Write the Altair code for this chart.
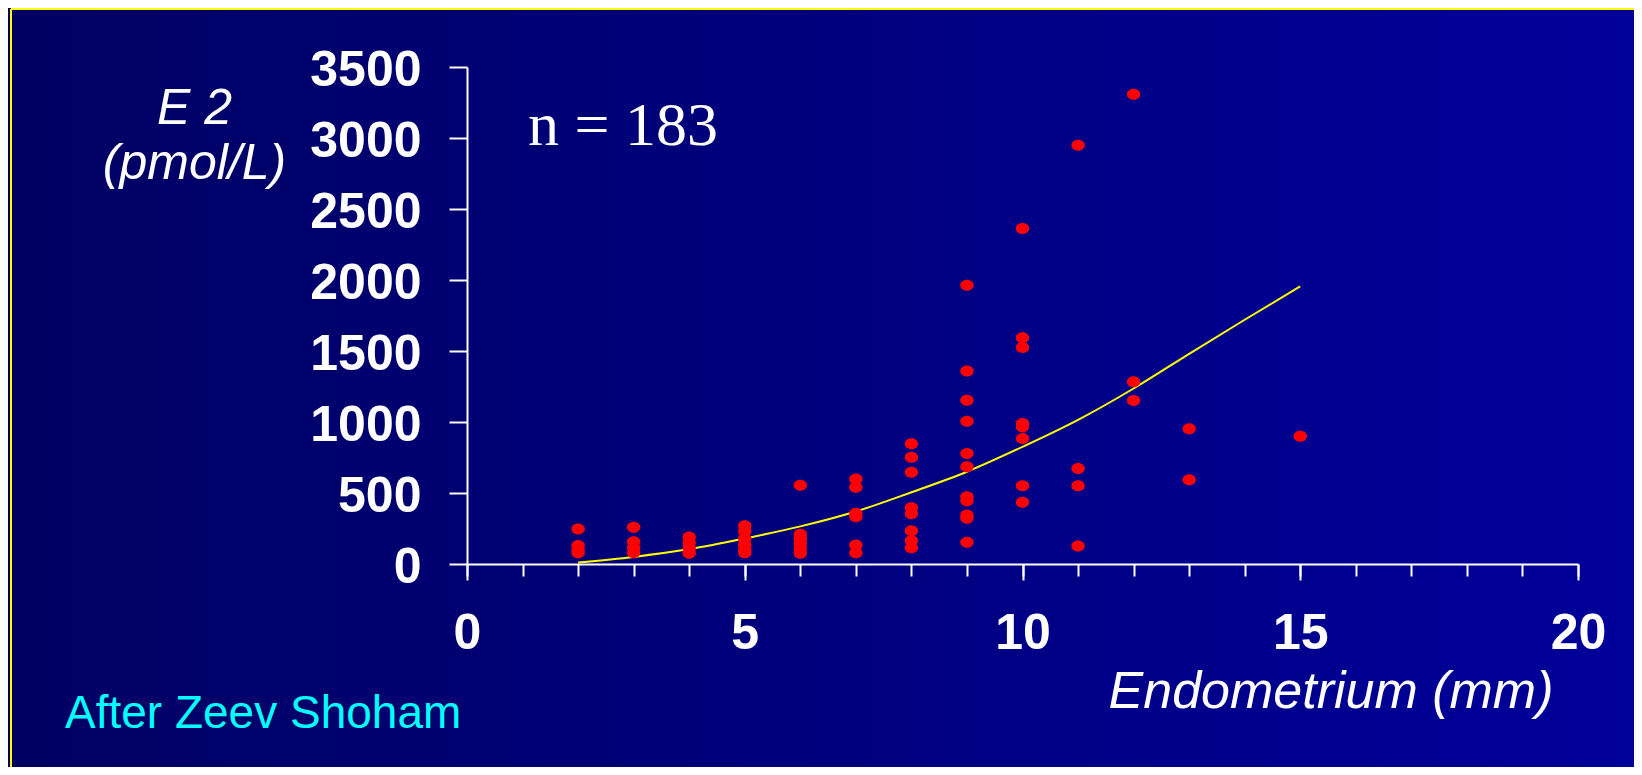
import altair as alt
import pandas as pd

# ---- data ----
x_pts = ([2] * 4 + [3] * 4 + [4] * 4 + [5] * 6 + [6] * 6 + [7] * 6 + [8] * 8 +
         [9] * 11 + [10] * 8 + [11] * 4 + [12] * 3 + [13] * 2 + [15])
y_pts = [246, 130, 100, 80,
         258, 157, 117, 80,
         190, 150, 110, 75,
         270, 230, 180, 135, 100, 80,
         554, 210, 180, 145, 110, 75,
         598, 540, 357, 333, 134, 80,
         847, 751, 647, 396, 354, 234, 164, 115,
         1963, 1360, 1154, 1006, 779, 685, 474, 446, 345, 322, 153,
         2362, 1593, 1525, 990, 966, 884, 551, 434,
         2949, 673, 551, 127,
         3308, 1283, 1152,
         952, 593,
         899]
fit_x = [2, 3, 4, 5, 6, 7, 8, 9, 10, 11, 12, 13, 14, 15]
fit_y = [10, 50, 105, 180, 265, 370, 505, 650, 825, 1015, 1236, 1480, 1720, 1955]
x_major = [0, 5, 10, 15, 20]
x_minor = list(range(0, 21))
y_ticks = [0, 500, 1000, 1500, 2000, 2500, 3000, 3500]

pts = pd.DataFrame({"Endometrium": x_pts, "E2": y_pts})
fit = pd.DataFrame({"Endometrium": fit_x, "E2": fit_y})
one = pd.DataFrame({"k": [0]})

# ---- layout ----
W, H = 1111, 497
PAD_L, PAD_T, PAD_R, PAD_B = 459, 59, 56, 203
SANS = "Liberation Sans, Arial, sans-serif"

xscale = alt.Scale(domain=[0, 20], nice=False, zero=False)
yscale = alt.Scale(domain=[0, 3500], nice=False)

yaxis = alt.Axis(
    values=y_ticks, format="d", title=["E 2", "(pmol/L)"], titleAngle=0,
    titleAlign="center", titleBaseline="alphabetic", titleX=-273, titleY=56,
    titleLineHeight=55, titleFont=SANS, titleFontSize=50, titleFontStyle="italic",
    titleFontWeight="normal", titleColor="white", tickSize=18, tickWidth=2,
    tickColor="white", domainColor="white", domainWidth=2, labelFont=SANS,
    labelFontSize=50, labelFontWeight="bold", labelColor="white", labelPadding=28,
    labelBaseline="middle", labelOffset=3, grid=False, zindex=1,
)
xaxis_major = alt.Axis(
    values=x_major, format="d", orient="bottom", title="Endometrium (mm)",
    titleAlign="right", titleBaseline="alphabetic", titleX=1086, titleY=143,
    titleFont=SANS, titleFontSize=52, titleFontStyle="italic",
    titleFontWeight="normal", titleColor="white", tickSize=16, tickWidth=2,
    tickColor="white", domainColor="white", domainWidth=2, labelFont=SANS,
    labelFontSize=50, labelFontWeight="bold", labelColor="white", labelPadding=28,
    grid=False, labelFlush=False, labelOverlap=False, zindex=1,
)
xaxis_minor = alt.Axis(
    values=x_minor, orient="bottom", title=None, labels=False, domain=False,
    tickSize=12, tickWidth=2, tickColor="white", grid=False, zindex=1,
)

grad = alt.LinearGradient(
    gradient="linear",
    stops=[alt.GradientStop(color="#000062", offset=0),
           alt.GradientStop(color="#00009a", offset=1)],
    x1=0, x2=1, y1=0, y2=0,
)

bg = alt.Chart(one).mark_rect(fill=grad).encode(
    x=alt.value(-PAD_L), x2=alt.value(W + PAD_R),
    y=alt.value(-PAD_T), y2=alt.value(H + PAD_B),
)
border_v = alt.Chart(one).mark_rule(color="#FFFF00", strokeWidth=2).encode(
    x=alt.value(-456), y=alt.value(-58), y2=alt.value(H + PAD_B),
)
border_h = alt.Chart(one).mark_rule(color="#FFFF00", strokeWidth=2).encode(
    x=alt.value(-456), x2=alt.value(W + PAD_R), y=alt.value(-58),
)

line = alt.Chart(fit).mark_line(color="#FFFF00", strokeWidth=2, interpolate="monotone").encode(
    x=alt.X("Endometrium:Q", scale=xscale, axis=xaxis_minor),
    y=alt.Y("E2:Q", scale=yscale, axis=yaxis),
)

ellipse = "M -1 0 A 1 0.82 0 1 1 1 0 A 1 0.82 0 1 1 -1 0 Z"
points = alt.Chart(pts).mark_point(
    shape=ellipse, filled=True, fill="#FF0000", opacity=1, size=180, strokeWidth=0,
).encode(
    x=alt.X("Endometrium:Q", scale=xscale, axis=xaxis_major),
    y=alt.Y("E2:Q", scale=yscale, axis=yaxis),
)

n_text = alt.Chart(one).mark_text(
    text="n = 183", font="Liberation Serif, Times New Roman, serif", fontSize=62,
    color="white", align="left", baseline="alphabetic",
).encode(x=alt.value(61), y=alt.value(78))

credit = alt.Chart(one).mark_text(
    text="After Zeev Shoham", font="Liberation Sans Narrow, Arial Narrow, Liberation Sans, sans-serif",
    fontSize=46, color="#00FFFF", align="left", baseline="alphabetic",
).encode(x=alt.value(-402), y=alt.value(661))

chart = alt.layer(bg, border_v, border_h, line, points, n_text, credit).resolve_axis(
    x="independent"
).properties(
    width=W, height=H,
    autosize=alt.AutoSizeParams(type="none"),
    padding={"left": PAD_L, "top": PAD_T, "right": PAD_R, "bottom": PAD_B},
    background="#000070",
).configure_view(strokeWidth=0)

chart.save("out.html", embed_options={"renderer": "svg", "actions": False})
